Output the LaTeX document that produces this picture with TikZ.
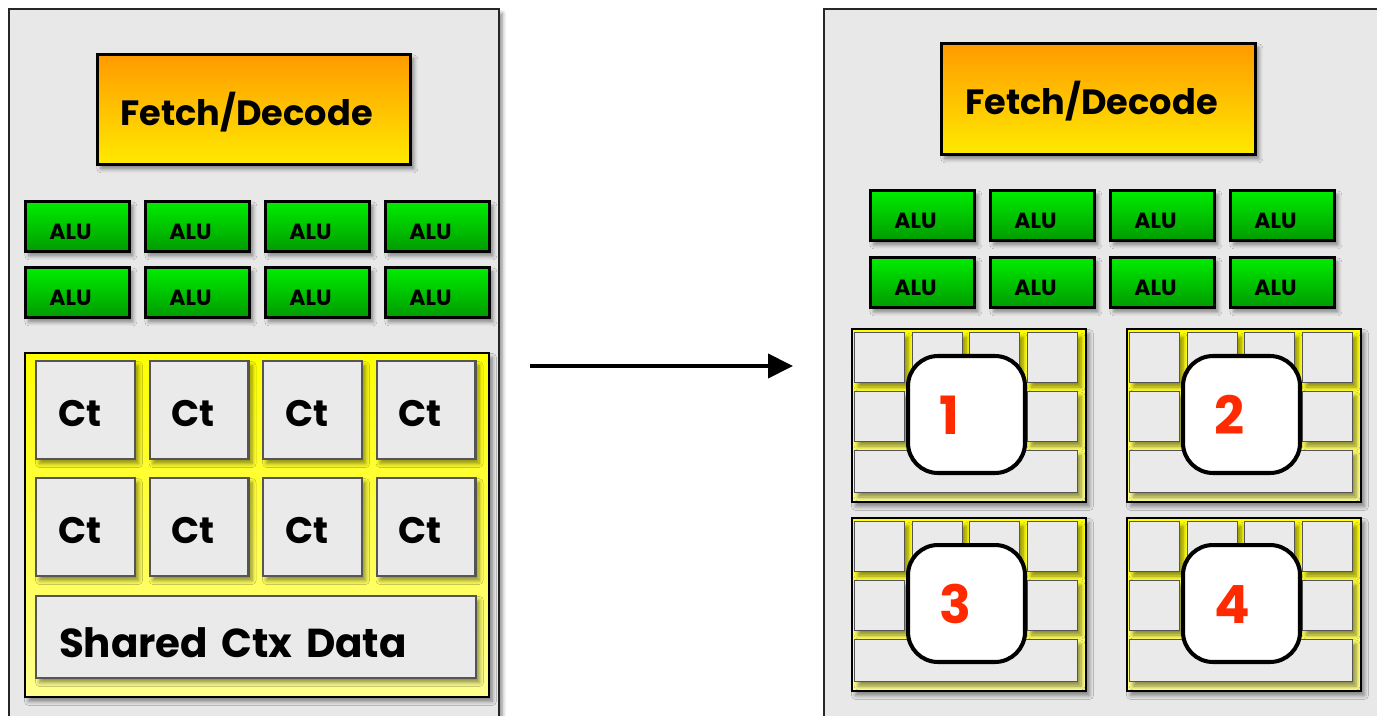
\documentclass[tikz,border=0pt]{standalone}
\usepackage{fontspec}
\setmainfont{Poppins}
\usetikzlibrary{arrows.meta,shadows.blur}
\newcommand\pxu{0.02cm}
\definecolor{panelgray}{HTML}{E8E8E8}
\definecolor{cellgray}{HTML}{EAEAEA}
\definecolor{celledge}{HTML}{555555}
\definecolor{fdtop}{HTML}{FF9A00}
\definecolor{fdbot}{HTML}{FFEA00}
\definecolor{alutop}{HTML}{00EE00}
\definecolor{alubot}{HTML}{009A00}
\definecolor{ctxyel}{HTML}{FFFF00}
\definecolor{ctxpale}{HTML}{FFFF90}
\definecolor{numred}{HTML}{FF2A00}
\tikzset{
  shad/.style={blur shadow={shadow xshift=0.07cm, shadow yshift=-0.09cm, shadow blur radius=0.08cm, shadow blur steps=6, shadow opacity=45}},
  panel/.style={anchor=north west, draw=black!85, line width=1.1pt, fill=panelgray, shad},
  fd/.style={anchor=north west, draw=black, line width=1.6pt, top color=fdtop, bottom color=fdbot, shad,
    minimum width=6.26cm, minimum height=2.2cm, inner xsep=0.46cm, text width=5.34cm, align=left,
    text height=0.64cm, text depth=0pt, font=\fontsize{20pt}{22pt}\selectfont\bfseries},
  alu/.style={anchor=north west, draw=black, line width=1.6pt, top color=alutop, bottom color=alubot, shad,
    minimum width=2.08cm, minimum height=1cm, inner xsep=0.48cm, text width=1.12cm, align=left,
    text height=0.52cm, text depth=0pt, font=\fontsize{12.5pt}{14pt}\selectfont\bfseries},
  ctxbox/.style={anchor=north west, draw=black, line width=1.1pt, top color=ctxyel, bottom color=ctxpale, shad},
  ct/.style={anchor=north west, draw=celledge, line width=1.2pt, fill=cellgray, shad,
    minimum width=1.98cm, minimum height=1.96cm, inner xsep=0.44cm, text width=1.1cm, align=left,
    text height=0.64cm, text depth=0pt, font=\fontsize{21pt}{24pt}\selectfont\bfseries},
  cell/.style={anchor=north west, draw=celledge, line width=0.7pt, fill=cellgray, shad,
    minimum width=1cm, minimum height=1cm, inner sep=0pt},
  numbox/.style={anchor=north west, draw=black, line width=2.3pt, fill=white, rounded corners=0.6cm,
    minimum width=2.34cm, minimum height=2.34cm, inner xsep=0.62cm, text width=1.1cm, align=left,
    text height=0.8cm, text depth=0pt, text=numred, font=\fontsize{30pt}{32pt}\selectfont\bfseries},
  flow/.style={line width=2.3pt, -{Triangle[length=0.5cm,width=0.48cm]}},
  ctxgrp/.pic={
    \node[ctxbox, minimum width=4.68cm, minimum height=3.46cm] (-y) at (0,0) {};
    \foreach \i/\xx in {0/3,1/61,2/118,3/176}
      \foreach \j/\yy in {0/4,1/63}
        \node[cell] (-c\j\i) at (\xx,\yy) {};
    \node[cell, minimum width=4.46cm, minimum height=0.84cm] (-b) at (3,122) {};
    \node[numbox] (-n) at (55,26) {#1};
  }
}
\begin{document}
\begin{tikzpicture}[x=\pxu, y=-\pxu]
  \useasboundingbox (0,0) rectangle (1377,716);
  \clip (0,0) rectangle (1377,716);
  \node[panel, minimum width=9.8cm, minimum height=15cm] (lcore) at (8,8) {};
  \node[fd] (lfd) at (96,53) {Fetch/Decode};
  \foreach \i in {0,...,3}
    \foreach \j in {0,1}
      \node[alu] (la\j\i) at (24+120*\i,200+66*\j) {ALU};
  \node[ctxbox, minimum width=9.28cm, minimum height=6.88cm] (lctx) at (24,352) {};
  \foreach \i in {0,...,3}
    \foreach \j in {0,1}
      \node[ct] (lct\j\i) at (35+113.5*\i,360+117*\j) {Ct};
  \node[ct, minimum width=8.8cm, minimum height=1.64cm, inner xsep=0.46cm, text width=7.88cm,
    text height=0.8cm, font=\fontsize{23pt}{26pt}\selectfont\bfseries] (lshared) at (35,595) {Shared Ctx Data};

  \coordinate (arra) at (530,366);
  \coordinate (arrb) at (793,366);
  \draw[flow] (arra) -- (arrb);

  \node[panel, minimum width=12cm, minimum height=15cm] (rcore) at (823,8) {};
  \node[fd, minimum width=6.28cm, minimum height=2.22cm, inner xsep=0.48cm, text width=5.32cm, text height=0.62cm] (rfd) at (940,42) {Fetch/Decode};
  \foreach \i in {0,...,3}
    \foreach \j in {0,1}
      \node[alu] (ra\j\i) at (869+120*\i,189+67*\j) {ALU};
  \pic (g1) at (851,328) {ctxgrp=1};
  \pic (g2) at (1126,328) {ctxgrp=2};
  \pic (g3) at (851,517) {ctxgrp=3};
  \pic (g4) at (1126,517) {ctxgrp=4};
\end{tikzpicture}
\end{document}
